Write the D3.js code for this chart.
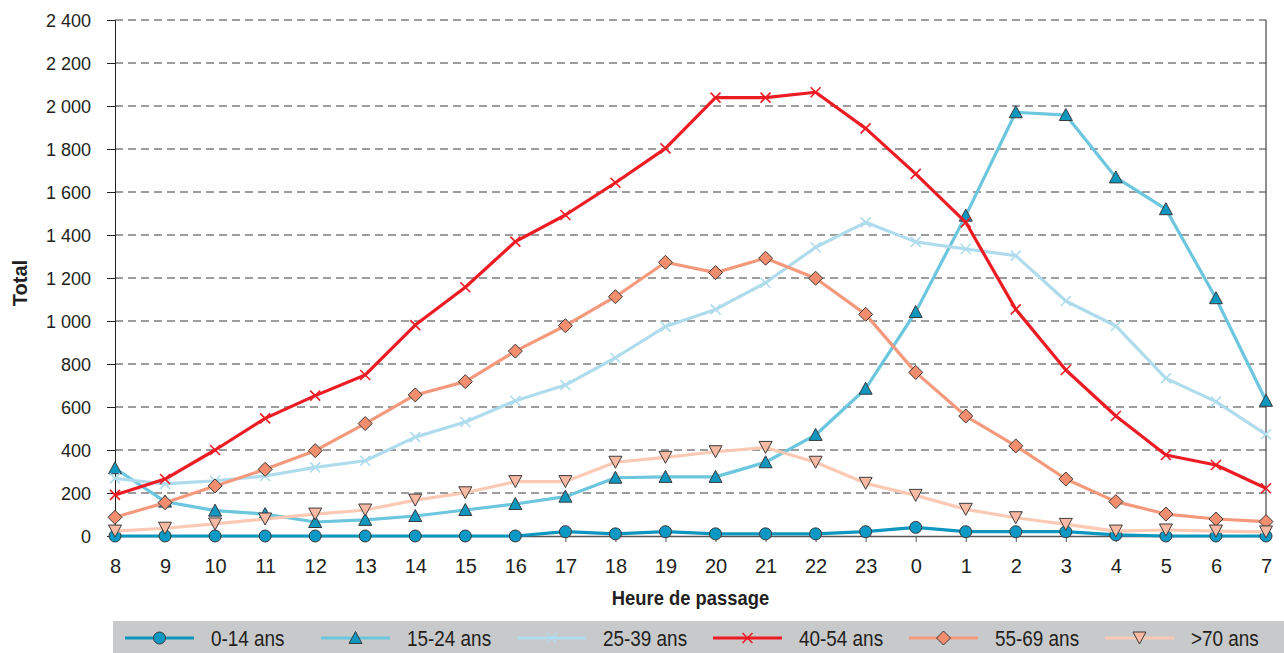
<!DOCTYPE html>
<html>
<head>
<meta charset="utf-8">
<script src="https://cdn.jsdelivr.net/npm/d3@7/dist/d3.min.js"></script>
<style>
  html, body { margin: 0; padding: 0; background: #fff; }
  svg { display: block; }
  text { font-family: "Liberation Sans", Arial, sans-serif; fill: #231f20; }
</style>
</head>
<body>
<svg id="chart" width="1284" height="653"></svg>
<script>
// Hours of passage, from 8 h to 7 h the next morning
const hours = ["8","9","10","11","12","13","14","15","16","17","18","19","20","21","22","23","0","1","2","3","4","5","6","7"];

// Totals per age group
const age0_14  = [0,0,0,0,0,0,0,0,0,20,10,20,10,10,10,20,40,20,20,20,5,0,0,0];
const age15_24 = [315,160,118,102,65,75,93,121,149,183,271,275,275,343,470,685,1042,1490,1971,1958,1668,1520,1106,629];
const age25_39 = [268,242,257,279,319,350,460,530,629,702,829,974,1054,1178,1343,1459,1368,1335,1304,1093,977,733,625,473];
const age40_54 = [191,265,400,547,653,749,981,1157,1369,1493,1643,1803,2039,2039,2064,1896,1684,1459,1054,772,558,377,330,222];
const age55_69 = [87,155,233,310,397,523,656,718,860,978,1113,1273,1225,1292,1199,1031,761,558,419,265,160,102,79,67];
const age70    = [23,36,56,79,102,121,167,201,253,253,343,366,392,412,343,245,189,124,85,54,23,28,23,19];

const seriesNames = ["0-14 ans","15-24 ans","25-39 ans","40-54 ans","55-69 ans",">70 ans"];
const yTicks = [0,200,400,600,800,1000,1200,1400,1600,1800,2000,2200,2400];

const series = [
  { name: seriesNames[0], values: age0_14,  line: "#0f96bf", fill: "#0a99c4", marker: "circle" },
  { name: seriesNames[1], values: age15_24, line: "#6cc6de", fill: "#0f97c0", marker: "triangle" },
  { name: seriesNames[2], values: age25_39, line: "#afdced", fill: "none",    marker: "cross" },
  { name: seriesNames[3], values: age40_54, line: "#ec1c24", fill: "none",    marker: "cross" },
  { name: seriesNames[4], values: age55_69, line: "#f4997c", fill: "#f28d6d", marker: "diamond" },
  { name: seriesNames[5], values: age70,    line: "#fcc9b4", fill: "#f9b9a2", marker: "down" }
];

const svg = d3.select("#chart");
const plotLeft = 115, plotRight = 1266, plotTop = 20, plotBottom = 536;

const x = d3.scalePoint().domain(hours).range([plotLeft, plotRight]).padding(0);
const y = d3.scaleLinear().domain([0, 2400]).range([plotBottom, plotTop]);

const fmt = v => d3.format(",")(v).replace(/,/g, " ");

// Dashed horizontal gridlines
svg.append("g")
  .selectAll("line")
  .data(yTicks.filter(d => d > 0))
  .join("line")
  .attr("x1", plotLeft).attr("x2", plotRight)
  .attr("y1", d => y(d)).attr("y2", d => y(d))
  .attr("stroke", "#3a3a3a")
  .attr("stroke-width", 1)
  .attr("stroke-dasharray", "8,5");

// Y axis
const yAxis = svg.append("g")
  .attr("transform", `translate(${plotLeft},0)`)
  .call(d3.axisLeft(y).tickValues(yTicks).tickFormat(fmt).tickSize(8).tickPadding(16));
yAxis.select(".domain").attr("stroke", "#231f20");
yAxis.selectAll(".tick line").attr("stroke", "#231f20");
yAxis.selectAll("text").style("font-size", "18px").attr("fill", "#231f20").attr("dy", "0.38em");

// Right border line
svg.append("line")
  .attr("x1", plotRight).attr("x2", plotRight)
  .attr("y1", plotTop).attr("y2", plotBottom)
  .attr("stroke", "#231f20").attr("stroke-width", 1);

// X axis
const xAxis = svg.append("g")
  .attr("transform", `translate(0,${plotBottom})`)
  .call(d3.axisBottom(x).tickSize(6).tickPadding(17).tickSizeOuter(0));
xAxis.select(".domain").attr("stroke", "#555").attr("stroke-width", 1.5);
xAxis.selectAll(".tick line").attr("stroke", "#555");
xAxis.selectAll("text").style("font-size", "20px").attr("fill", "#231f20");

// Axis titles
svg.append("text")
  .attr("transform", `translate(${(plotLeft + plotRight) / 2},605) scale(0.92,1)`)
  .attr("text-anchor", "middle")
  .style("font-size", "20px").style("font-weight", "bold")
  .text("Heure de passage");

svg.append("text")
  .attr("transform", `translate(27,283) rotate(-90)`)
  .attr("text-anchor", "middle")
  .style("font-size", "20px").style("font-weight", "bold")
  .text("Total");

// Marker drawing
function drawMarker(g, s, cx, cy) {
  const stroke = "#3a3a3a";
  if (s.marker === "circle") {
    g.append("circle").attr("cx", cx).attr("cy", cy).attr("r", 6)
      .attr("fill", s.fill).attr("stroke", stroke).attr("stroke-width", 1);
  } else if (s.marker === "triangle") {
    g.append("path")
      .attr("d", `M${cx},${cy - 6.5} L${cx + 6.5},${cy + 5.5} L${cx - 6.5},${cy + 5.5} Z`)
      .attr("fill", s.fill).attr("stroke", stroke).attr("stroke-width", 1);
  } else if (s.marker === "down") {
    g.append("path")
      .attr("d", `M${cx - 6.5},${cy - 6} L${cx + 6.5},${cy - 6} L${cx},${cy + 6} Z`)
      .attr("fill", s.fill).attr("stroke", stroke).attr("stroke-width", 1);
  } else if (s.marker === "diamond") {
    g.append("path")
      .attr("d", `M${cx},${cy - 7} L${cx + 7},${cy} L${cx},${cy + 7} L${cx - 7},${cy} Z`)
      .attr("fill", s.fill).attr("stroke", stroke).attr("stroke-width", 1);
  } else if (s.marker === "cross") {
    const r = 5;
    g.append("path")
      .attr("d", `M${cx - r},${cy - r} L${cx + r},${cy + r} M${cx - r},${cy + r} L${cx + r},${cy - r}`)
      .attr("fill", "none").attr("stroke", s.line).attr("stroke-width", 1.6);
  }
}

const line = d3.line().x((d, i) => x(hours[i])).y(d => y(d));

series.forEach(s => {
  const g = svg.append("g");
  g.append("path")
    .datum(s.values)
    .attr("d", line)
    .attr("fill", "none")
    .attr("stroke", s.line)
    .attr("stroke-width", 3.2)
    .attr("stroke-linejoin", "round");
  s.values.forEach((v, i) => drawMarker(g, s, x(hours[i]), y(v)));
});

// Legend
const legend = svg.append("g");
legend.append("rect")
  .attr("x", 113).attr("y", 621).attr("width", 1171).attr("height", 32)
  .attr("fill", "#c8c9cb");

series.forEach((s, i) => {
  const lx = 125 + i * 196;
  const ly = 638;
  const g = legend.append("g");
  g.append("line")
    .attr("x1", lx).attr("x2", lx + 69)
    .attr("y1", ly).attr("y2", ly)
    .attr("stroke", s.line).attr("stroke-width", 3.2);
  drawMarker(g, s, lx + 34.5, ly);
  g.append("text")
    .attr("transform", `translate(${lx + 86},646) scale(0.86,1)`)
    .style("font-size", "22px")
    .text(s.name);
});
</script>
</body>
</html>
